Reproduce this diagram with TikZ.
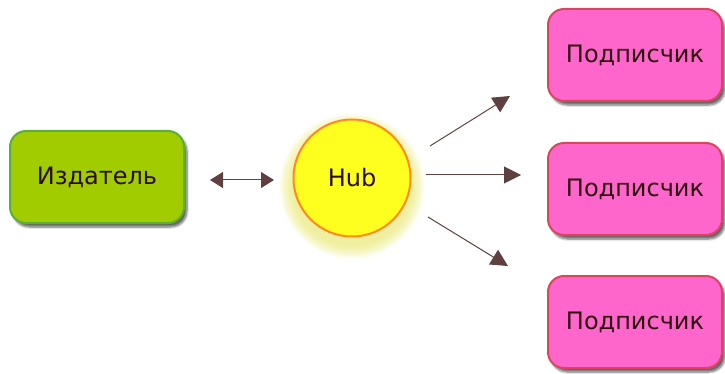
\documentclass[tikz,border=0pt]{standalone}
\usepackage{fontspec}
\setmainfont{DejaVu Sans}
\usetikzlibrary{arrows.meta,shadows.blur}

\definecolor{pubfill}{HTML}{A0CC00}
\definecolor{publine}{HTML}{5DAE36}
\definecolor{hubfill}{HTML}{FFFF1F}
\definecolor{hubline}{HTML}{FF8A1A}
\definecolor{subfill}{HTML}{FF66CC}
\definecolor{subline}{HTML}{D9455F}
\definecolor{arrowcol}{HTML}{5E4040}
\definecolor{textcol}{HTML}{2B0B0B}
\definecolor{glowcol}{HTML}{E8E870}

\tikzset{
    box/.style={draw, rounded corners=16pt, line width=2pt, minimum width=174pt,
        minimum height=92pt, text=textcol, font=\fontsize{24}{28}\selectfont,
        blur shadow={shadow xshift=3pt, shadow yshift=-4pt, shadow blur steps=6, shadow opacity=60}},
    pubbox/.style={box, fill=pubfill, draw=publine},
    subbox/.style={box, fill=subfill, draw=subline},
    hubnode/.style={draw=hubline, fill=hubfill, circle, line width=2pt, minimum size=117pt,
        text=textcol, font=\fontsize{24}{28}\selectfont},
    link/.style={draw=arrowcol, line width=1pt, -{Triangle[length=17pt,width=17pt]}}
}

\begin{document}
\begin{tikzpicture}[x=1pt, y=-1pt]
    \useasboundingbox (0,0) rectangle (725,374);

    % glow under the hub
    \foreach \r in {60,62,...,72}
        \fill[glowcol, opacity=0.15] (352,186) circle[radius=\r];

    % nodes
    \node[pubbox] (pub) at (97,177) {Издатель};
    \node[hubnode] (hub) at (352,178) {Hub};
    \node[subbox] (sub1) at (635,55) {Подписчик};
    \node[subbox] (sub2) at (635,189) {Подписчик};
    \node[subbox] (sub3) at (635,322) {Подписчик};

    % arrow ends
    \coordinate (pa) at (210,180);
    \coordinate (pb) at (274,180);
    \coordinate (s1a) at (430,146);
    \coordinate (s1b) at (510,96);
    \coordinate (s2a) at (426,175);
    \coordinate (s2b) at (521,175);
    \coordinate (s3a) at (428,217);
    \coordinate (s3b) at (508,266);

    % publisher <-> hub
    \draw[link, {Triangle[length=13pt,width=16pt]}-{Triangle[length=13pt,width=16pt]}] (pa) -- (pb);

    % hub -> subscribers
    \draw[link] (s1a) -- (s1b);
    \draw[link] (s2a) -- (s2b);
    \draw[link] (s3a) -- (s3b);
\end{tikzpicture}
\end{document}
